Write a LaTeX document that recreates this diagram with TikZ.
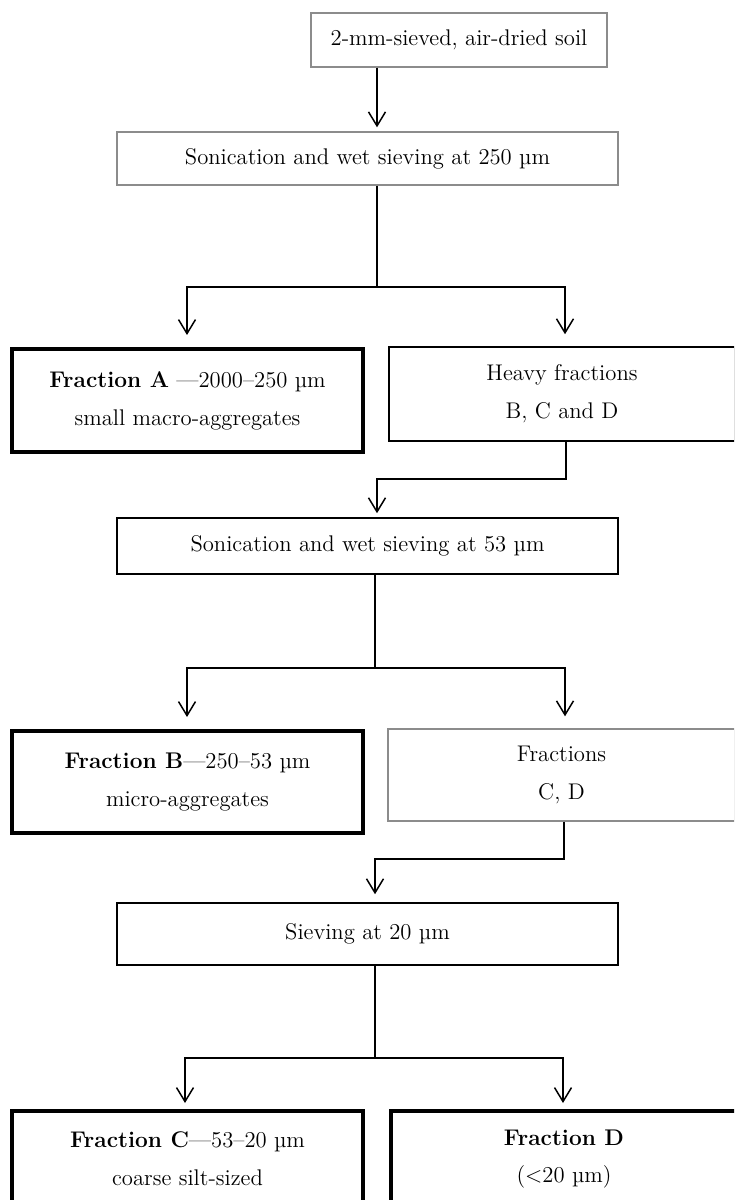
\documentclass[tikz,border=0pt]{standalone}
\usepackage{fontspec}
\usetikzlibrary{arrows.meta}
\begin{document}
\begin{tikzpicture}[x=0.02cm,y=-0.02cm,
  every node/.style={font=\fontsize{12.9}{21.5}\selectfont, align=center, inner sep=0pt, text=black},
  gbox/.style={draw=black!45, line width=0.8pt, fill=white},
  bbox/.style={draw=black, line width=0.9pt, fill=white},
  tbox/.style={draw=black, line width=2.3pt, fill=white},
  conn/.style={line width=0.85pt},
  arr/.style={conn, -{Straight Barb[length=2.8mm,width=3.4mm]}}]
\useasboundingbox (0,0) rectangle (734,1200);
\clip (0,0) rectangle (734,1200);
% boxes
\node[gbox, minimum width=5.92cm, minimum height=1.08cm] (soil) at (459,40) {2-mm-sieved, air-dried soil};
\node[gbox, minimum width=10.02cm, minimum height=1.06cm] (s250) at (367.5,158.5) {Sonication and wet sieving at 250 µm};
\node[tbox, minimum width=7.02cm, minimum height=2.06cm] (fa) at (187.5,400.5) {\textbf{Fraction A} —2000–250 µm\\small macro-aggregates};
\node[bbox, minimum width=6.92cm, minimum height=1.88cm] (heavy) at (562,394) {Heavy fractions\\B, C and D};
\node[bbox, minimum width=10.02cm, minimum height=1.12cm] (s53) at (367.5,546) {Sonication and wet sieving at 53 µm};
\node[tbox, minimum width=7.02cm, minimum height=2.04cm] (fb) at (187.5,782) {\textbf{Fraction B}—250–53 µm\\micro-aggregates};
\node[gbox, minimum width=6.94cm, minimum height=1.84cm] (fcd) at (561.5,775) {Fractions\\C, D};
\node[bbox, minimum width=10.02cm, minimum height=1.24cm] (s20) at (367.5,934) {Sieving at 20 µm};
\node[tbox, minimum width=7.02cm, minimum height=1.92cm] (fc) at (187.5,1159) {\textbf{Fraction C}—53–20 µm\\coarse silt-sized};
\node[tbox, minimum width=6.92cm, minimum height=1.92cm] (fd) at (564,1159) {\textbf{Fraction D}\\(<20 µm)};
% junction coordinates
\coordinate (j1) at (377,287);
\coordinate (a1) at (187,287);
\coordinate (b1) at (565,287);
\coordinate (k1) at (566,479);
\coordinate (k2) at (377,479);
\coordinate (j2) at (375,668);
\coordinate (a2) at (187,668);
\coordinate (b2) at (565,668);
\coordinate (k3) at (564,859);
\coordinate (k4) at (375,859);
\coordinate (j3) at (375,1058);
\coordinate (a3) at (185,1058);
\coordinate (b3) at (563,1058);
% connectors
\draw[arr, shorten >=0.08cm] (soil.south -| j1) -- (s250.north -| j1);
\draw[conn] (s250.south -| j1) -- (j1);
\draw[arr, shorten >=0.24cm] (j1) -- (a1) -- (a1 |- fa.north);
\draw[arr, shorten >=0.24cm] (j1) -- (b1) -- (b1 |- heavy.north);
\draw[arr, shorten >=0.08cm] (heavy.south -| k1) -- (k1) -- (k2) -- (k2 |- s53.north);
\draw[conn] (s53.south -| j2) -- (j2);
\draw[arr, shorten >=0.24cm] (j2) -- (a2) -- (a2 |- fb.north);
\draw[arr, shorten >=0.24cm] (j2) -- (b2) -- (b2 |- fcd.north);
\draw[arr, shorten >=0.16cm] (fcd.south -| k3) -- (k3) -- (k4) -- (k4 |- s20.north);
\draw[conn] (s20.south -| j3) -- (j3);
\draw[arr, shorten >=0.12cm] (j3) -- (a3) -- (a3 |- fc.north);
\draw[arr, shorten >=0.12cm] (j3) -- (b3) -- (b3 |- fd.north);
\end{tikzpicture}
\end{document}
